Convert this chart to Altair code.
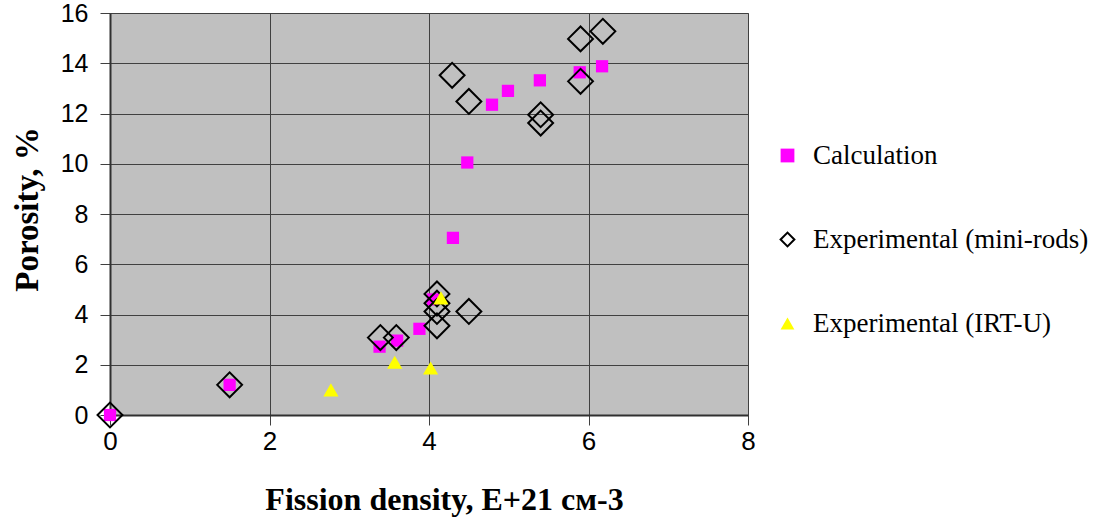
import altair as alt
import pandas as pd

series_names = ["Calculation", "Experimental (mini-rods)", "Experimental (IRT-U)"]

calc_x = [0, 1.5, 3.38, 3.6, 3.88, 4.05, 4.3, 4.48, 4.79, 4.99, 5.39, 5.89, 6.17]
calc_y = [0, 1.2, 2.72, 2.96, 3.43, 4.6, 7.05, 10.05, 12.35, 12.9, 13.32, 13.64, 13.88]

mini_x = [0, 1.5, 3.39, 3.59, 4.1, 4.1, 4.1, 4.1, 4.5, 4.29, 4.5, 5.4, 5.4, 5.9, 5.9, 6.18]
mini_y = [0, 1.2, 3.08, 3.08, 4.82, 4.45, 4.12, 3.55, 4.12, 13.52, 12.48, 11.95, 11.62, 14.97, 13.28, 15.27]

irt_x = [2.77, 3.57, 4.02, 4.15]
irt_y = [1.0, 2.1, 1.87, 4.66]

x_ticks = [0, 2, 4, 6, 8]
y_ticks = [0, 2, 4, 6, 8, 10, 12, 14, 16]

rows = []
for xs, ys, name in [(calc_x, calc_y, series_names[0]),
                     (mini_x, mini_y, series_names[1]),
                     (irt_x, irt_y, series_names[2])]:
    for x, y in zip(xs, ys):
        rows.append({"x": x, "y": y, "series": name})
df = pd.DataFrame(rows)

legend = alt.Legend(
    title=None, orient="none", legendX=664, legendY=129,
    labelFont="Liberation Serif", labelFontSize=27, labelColor="black",
    labelLimit=0, rowPadding=56, labelOffset=12, symbolSize=190, symbolStrokeWidth=2,
    padding=0,
)

x_enc = alt.X("x:Q", scale=alt.Scale(domain=[0, 8], nice=False, zero=False),
              axis=alt.Axis(values=x_ticks, title="Fission density, E+21 см-3",
                            titleFont="Liberation Serif", titleFontSize=32, titleFontWeight="bold",
                            titleColor="black", titlePadding=30, titleX=334,
                            labelFont="Liberation Sans", labelFontSize=26, labelColor="black",
                            labelPadding=3, labelFlush=False, tickSize=10, tickColor="#404040",
                            domainColor="#303030", domainWidth=2,
                            grid=True, gridColor="#404040", gridWidth=1))
y_enc = alt.Y("y:Q", scale=alt.Scale(domain=[0, 16], nice=False, zero=False),
              axis=alt.Axis(values=y_ticks, title="Porosity, %",
                            titleFont="Liberation Serif", titleFontSize=33, titleFontWeight="bold",
                            titleColor="black", titlePadding=16, titleY=196,
                            labelFont="Liberation Sans", labelFontSize=25, labelColor="black",
                            labelPadding=12, labelFlush=False, tickSize=10, tickColor="#404040",
                            domainColor="#303030", domainWidth=2,
                            grid=True, gridColor="#404040", gridWidth=1))
shape_enc = alt.Shape("series:N", scale=alt.Scale(domain=series_names,
                      range=["square", "diamond", "triangle-up"]), legend=legend)
fill_enc = alt.Fill("series:N", scale=alt.Scale(domain=series_names,
                    range=["#FF00FF", "transparent", "#FFFF00"]), legend=legend)
stroke_enc = alt.Stroke("series:N", scale=alt.Scale(domain=series_names,
                        range=["transparent", "black", "transparent"]), legend=legend)

base = alt.Chart(df).encode(x=x_enc, y=y_enc, shape=shape_enc, fill=fill_enc, stroke=stroke_enc)

sizes = [150, 620, 230]
layers = []
for name, sz in zip(series_names, sizes):
    layers.append(
        base.transform_filter(alt.datum.series == name)
        .mark_point(size=sz, strokeWidth=2, opacity=1)
    )

chart = alt.layer(*layers).properties(
    width=638, height=402,
    autosize=alt.AutoSizeParams(type="none"),
    padding={"left": 110, "top": 13, "right": 353, "bottom": 112},
    background="white",
).configure(
    font="Liberation Serif",
).configure_view(
    fill="#C0C0C0", stroke="#808080", strokeWidth=1,
).configure_legend(
    labelFont="Liberation Serif", labelFontSize=27, labelLimit=0,
)

chart.save("out.html", embed_options={"renderer": "svg", "actions": False})
